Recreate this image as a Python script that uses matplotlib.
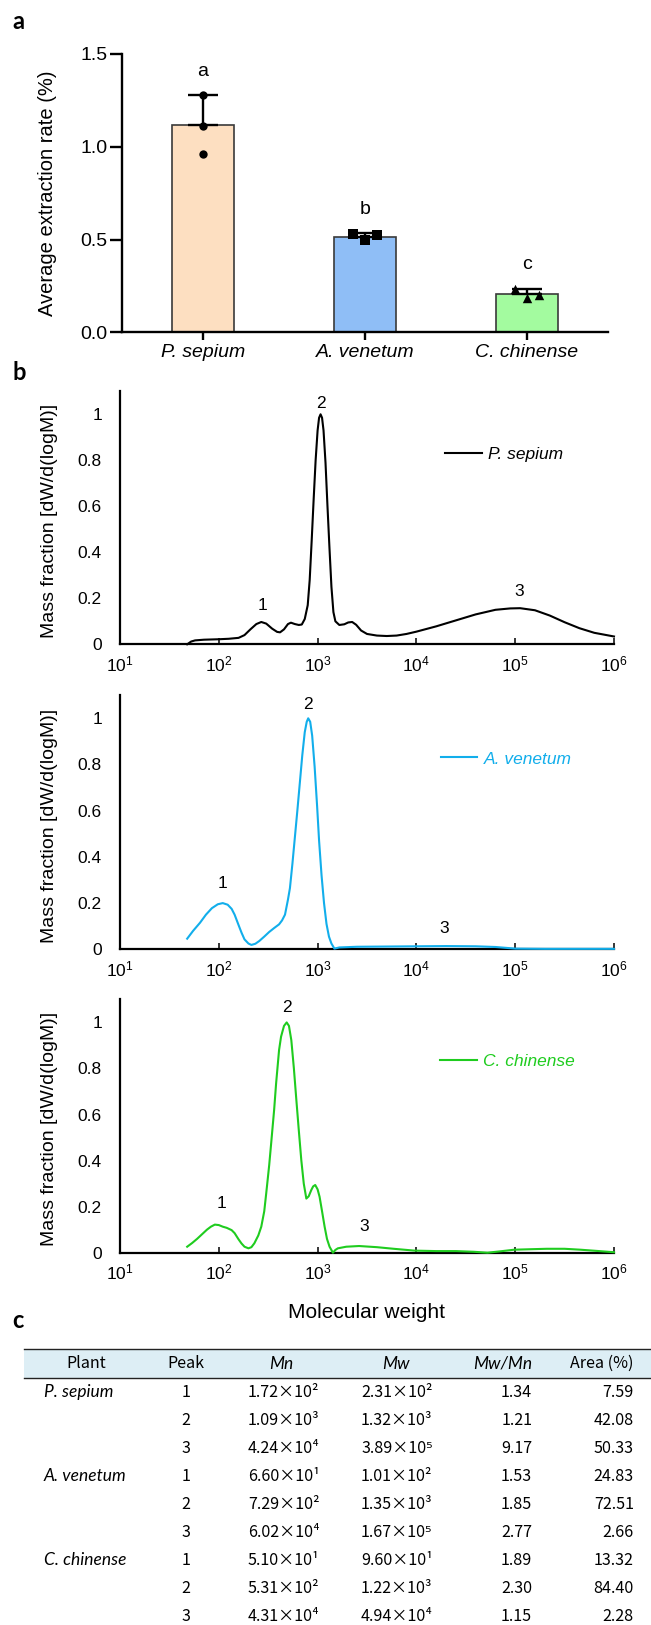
import numpy as np
import matplotlib
matplotlib.use('Agg')
import matplotlib.pyplot as plt
from matplotlib.ticker import FixedLocator, FuncFormatter, NullLocator
from matplotlib.patches import Rectangle

plt.rcParams['font.family'] = ['Liberation Sans', 'DejaVu Sans']
plt.rcParams['mathtext.fontset'] = 'custom'
plt.rcParams['mathtext.rm'] = 'Liberation Sans'
plt.rcParams['mathtext.it'] = 'Liberation Sans:italic'
plt.rcParams['mathtext.bf'] = 'Liberation Sans:bold'

# ---------------- Panel a data ----------------
species = ['P. sepium', 'A. venetum', 'C. chinense']
bar_means = [1.116, 0.515, 0.206]
bar_err_up = [0.162, 0.019, 0.029]
reps_ps = [1.278, 1.110, 0.961]
reps_av = [0.530, 0.496, 0.525]
reps_cc = [0.235, 0.187, 0.199]
sig_letters = ['a', 'b', 'c']
bar_colors = ['#FDDFC1', '#8FBEF6', '#A3FB9F']

# ---------------- Panel b data (log10 M, dW/dlogM) ----------------
ps_logM = [1.68, 1.72, 1.76, 1.85, 2.00, 2.10, 2.20, 2.26, 2.32, 2.38,
           2.43, 2.48, 2.54, 2.59, 2.62, 2.66, 2.70, 2.73, 2.77, 2.81,
           2.84, 2.87, 2.90, 2.92, 2.94, 2.96, 2.98, 3.00, 3.015, 3.03,
           3.045, 3.06, 3.08, 3.10, 3.12, 3.14, 3.16, 3.18, 3.22, 3.27,
           3.31, 3.35, 3.39, 3.44, 3.50, 3.60, 3.70, 3.80, 3.90, 4.00,
           4.20, 4.40, 4.60, 4.80, 4.95, 5.05, 5.20, 5.35, 5.50, 5.65,
           5.80, 6.00]
ps_y = [0.000, 0.012, 0.017, 0.020, 0.022, 0.024, 0.028, 0.040, 0.065, 0.088,
        0.097, 0.090, 0.068, 0.054, 0.052, 0.065, 0.088, 0.094, 0.088, 0.084,
        0.086, 0.110, 0.170, 0.280, 0.450, 0.630, 0.800, 0.930, 0.985, 1.000,
        0.985, 0.930, 0.790, 0.600, 0.420, 0.250, 0.140, 0.100, 0.084, 0.087,
        0.095, 0.097, 0.085, 0.060, 0.045, 0.038, 0.036, 0.038, 0.045, 0.055,
        0.078, 0.104, 0.130, 0.150, 0.156, 0.157, 0.148, 0.125, 0.096, 0.070,
        0.050, 0.034]

av_logM = [1.68, 1.74, 1.81, 1.87, 1.93, 1.99, 2.04, 2.09, 2.13, 2.16,
           2.20, 2.23, 2.26, 2.30, 2.33, 2.37, 2.41, 2.46, 2.51, 2.56,
           2.61, 2.64, 2.67, 2.70, 2.72, 2.745, 2.77, 2.795, 2.82, 2.845,
           2.87, 2.89, 2.905, 2.925, 2.945, 2.97, 2.995, 3.015, 3.04, 3.065,
           3.09, 3.115, 3.14, 3.17, 3.22, 3.40, 3.70, 4.00, 4.30, 4.60,
           4.80, 5.00, 5.30, 5.60, 6.00]
av_y = [0.046, 0.080, 0.115, 0.150, 0.178, 0.195, 0.200, 0.193, 0.175, 0.150,
        0.105, 0.072, 0.043, 0.025, 0.019, 0.024, 0.036, 0.055, 0.075, 0.092,
        0.108, 0.125, 0.150, 0.215, 0.265, 0.370, 0.485, 0.600, 0.720, 0.840,
        0.940, 0.985, 1.000, 0.985, 0.925, 0.790, 0.620, 0.470, 0.320, 0.200,
        0.110, 0.055, 0.025, 0.003, 0.008, 0.011, 0.012, 0.013, 0.014, 0.013,
        0.010, 0.003, 0.002, 0.002, 0.002]

cc_logM = [1.68, 1.73, 1.78, 1.83, 1.88, 1.92, 1.96, 2.00, 2.04, 2.08,
           2.13, 2.16, 2.20, 2.23, 2.26, 2.30, 2.33, 2.36, 2.40, 2.43,
           2.46, 2.48, 2.51, 2.53, 2.56, 2.58, 2.61, 2.63, 2.66, 2.687,
           2.71, 2.734, 2.76, 2.785, 2.81, 2.835, 2.86, 2.886, 2.91, 2.936,
           2.955, 2.976, 3.00, 3.02, 3.045, 3.071, 3.095, 3.121, 3.155, 3.18,
           3.205, 3.29, 3.42, 3.60, 3.77, 3.98, 4.20, 4.40, 4.58, 4.72,
           4.85, 4.99, 5.15, 5.32, 5.50, 5.66, 5.85, 6.00]
cc_y = [0.026, 0.042, 0.060, 0.080, 0.100, 0.113, 0.122, 0.120, 0.113, 0.108,
        0.098, 0.085, 0.058, 0.040, 0.026, 0.019, 0.024, 0.041, 0.075, 0.113,
        0.180, 0.258, 0.380, 0.475, 0.620, 0.735, 0.880, 0.938, 0.985, 1.000,
        0.985, 0.923, 0.800, 0.663, 0.530, 0.402, 0.300, 0.235, 0.245, 0.272,
        0.288, 0.294, 0.275, 0.243, 0.180, 0.113, 0.060, 0.026, 0.000, 0.012,
        0.019, 0.026, 0.029, 0.024, 0.017, 0.009, 0.007, 0.007, 0.004, 0.000,
        0.006, 0.013, 0.015, 0.017, 0.017, 0.013, 0.007, 0.002]

curve_colors = ['#000000', '#12AEEB', '#1FCC1F']
peak_labels = ['1', '2', '3']
# approximate (log10 M, y) anchor of the peak numbers in each panel
peak_label_pos = [[(2.44, 0.167), (3.03, 1.048), (5.04, 0.229)],
                  [(2.04, 0.286), (2.906, 1.058), (4.28, 0.091)],
                  [(2.03, 0.214), (2.69, 1.066), (3.47, 0.113)]]
mw_ticks = [1e1, 1e2, 1e3, 1e4, 1e5, 1e6]
frac_ticks = [0, 0.2, 0.4, 0.6, 0.8, 1.0]

# ---------------- Panel c data ----------------
tbl_header = ['Plant', 'Peak', 'Mn', 'Mw', 'Mw/Mn', 'Area (%)']
tbl_peaks = [1, 2, 3]
mn_mant = [[1.72, 1.09, 4.24], [6.60, 7.29, 6.02], [5.10, 5.31, 4.31]]
mn_exp = [[2, 3, 4], [1, 2, 4], [1, 2, 4]]
mw_mant = [[2.31, 1.32, 3.89], [1.01, 1.35, 1.67], [9.60, 1.22, 4.94]]
mw_exp = [[2, 3, 5], [2, 3, 5], [1, 3, 4]]
pdi = [[1.34, 1.21, 9.17], [1.53, 1.85, 2.77], [1.89, 2.30, 1.15]]
area = [[7.59, 42.08, 50.33], [24.83, 72.51, 2.66], [13.32, 84.40, 2.28]]

# ---------------- Figure ----------------
W, H = 651, 1625
fig = plt.figure(figsize=(W / 100, H / 100), dpi=100)


def rect(l, r, top, bottom):
    return [l / W, 1 - bottom / H, (r - l) / W, (bottom - top) / H]


# ---- Panel a ----
axa = fig.add_axes(rect(122, 608, 54, 332.3))
xa = np.arange(len(species))
axa.bar(xa, bar_means, width=0.386, color=bar_colors, edgecolor='#3a3a3a',
        linewidth=1.2, zorder=2)
axa.errorbar(xa, bar_means, yerr=[np.zeros(len(xa)), bar_err_up], fmt='none',
             ecolor='black', elinewidth=1.7, capsize=10.5, capthick=1.7, zorder=3)
jit = [[0, 0, 0], [-0.077, 0, 0.077], [-0.077, 0, 0.077]]
marks = [('o', 36), ('s', 44), ('^', 46)]
for i, reps in enumerate([reps_ps, reps_av, reps_cc]):
    axa.scatter(xa[i] + np.array(jit[i]), reps, marker=marks[i][0], s=marks[i][1],
                color='black', zorder=4, linewidths=0)
    axa.text(xa[i], bar_means[i] + bar_err_up[i] + 0.128, sig_letters[i],
             ha='center', va='center', fontsize=14)
axa.set_xlim(-0.5, 2.5)
axa.set_ylim(0, 1.5)
axa.set_yticks([0, 0.5, 1.0, 1.5])
axa.yaxis.set_major_formatter(FuncFormatter(lambda v, p: '%.1f' % v))
axa.set_xticks(xa)
axa.set_xticklabels(species, fontstyle='italic', fontsize=14)
for s in ['top', 'right']:
    axa.spines[s].set_visible(False)
for s in ['left', 'bottom']:
    axa.spines[s].set_linewidth(1.7)
axa.tick_params(axis='y', direction='out', length=8.4, width=1.7, labelsize=14, pad=2)
axa.tick_params(axis='x', direction='out', length=5.5, width=1.7, pad=3)
fig.text(48 / W, 1 - 193 / H, 'Average extraction rate (%)', rotation=90,
         ha='center', va='center', fontsize=14.5)

# ---- Panel b ----
b_rects = [rect(120, 614, 391.3, 644.3), rect(120, 614, 695.2, 949.3),
           rect(120, 614, 999.4, 1252.7)]
curves = [(ps_logM, ps_y), (av_logM, av_y), (cc_logM, cc_y)]
leg_anchor = [(0.658, 0.752), (0.649, 0.749), (0.648, 0.754)]
for k in range(3):
    ax = fig.add_axes(b_rects[k])
    lm, yy = curves[k]
    ax.plot(10 ** np.array(lm), yy, color=curve_colors[k], lw=1.5,
            label=species[k], zorder=3, clip_on=False)
    ax.set_xscale('log')
    ax.set_xlim(10, 1e6)
    ax.set_ylim(0, 1.1)
    ax.xaxis.set_major_locator(FixedLocator(mw_ticks))
    ax.xaxis.set_minor_locator(NullLocator())
    ax.yaxis.set_major_locator(FixedLocator(frac_ticks))
    ax.yaxis.set_major_formatter(FuncFormatter(lambda v, p: '%g' % v))
    for s in ['top', 'right']:
        ax.spines[s].set_visible(False)
    for s in ['left', 'bottom']:
        ax.spines[s].set_linewidth(1.6)
    ax.tick_params(axis='y', length=0, pad=13, labelsize=12.5)
    ax.tick_params(axis='x', direction='in', length=4, width=1.1, pad=7, labelsize=12.5)
    for lab, (pl, py) in zip(peak_labels, peak_label_pos[k]):
        ax.text(10 ** pl, py, lab, ha='center', va='center', fontsize=12.5)
    ax.legend(loc='center left', bbox_to_anchor=leg_anchor[k], borderaxespad=0,
              borderpad=0, handlelength=2.1, handletextpad=0.38, frameon=False,
              prop={'style': 'italic', 'size': 12.5}, labelcolor='linecolor')
    cy = (b_rects[k][1] + b_rects[k][3] / 2)
    fig.text(49.5 / W, cy - 0.002, 'Mass fraction [dW/d(logM)]', rotation=90,
             ha='center', va='center', fontsize=14)
fig.text(367 / W, 1 - 1312.7 / H, 'Molecular weight', ha='center', va='center',
         fontsize=15)

# ---- Panel labels ----
for lab, yb in zip(['a', 'b', 'c'], [29.3, 380, 1328.3]):
    fig.text(12.5 / W, 1 - yb / H, lab, ha='left', va='baseline', fontsize=17,
             fontweight='bold', family=['Lato', 'DejaVu Sans'])

# ---- Panel c table ----
axt = fig.add_axes([0, 0, 1, 1])
axt.set_xlim(0, W)
axt.set_ylim(H, 0)
axt.axis('off')
axt.add_patch(Rectangle((24, 1349.3), W - 24, 29, facecolor='#DDEEF5',
                        edgecolor='none', zorder=1))
axt.plot([24, W], [1349.3, 1349.3], color='#222222', lw=1.0, zorder=2)
axt.plot([24, W], [1378.3, 1378.3], color='#222222', lw=1.0, zorder=2)

reg = dict(family=['Noto Sans CJK SC', 'DejaVu Sans'], fontsize=11.6)
ita = dict(family=['Lato', 'DejaVu Sans'], fontstyle='italic', fontsize=12.5)
hy = 1363.8
axt.text(86.3, hy, tbl_header[0], ha='center', va='center', **reg)
axt.text(185.6, hy, tbl_header[1], ha='center', va='center', **reg)
axt.text(281, hy, tbl_header[2], ha='center', va='center', **ita)
axt.text(396.4, hy, tbl_header[3], ha='center', va='center', **ita)
axt.text(532.2, hy, tbl_header[4], ha='right', va='center', **ita)
axt.text(633.9, hy, tbl_header[5], ha='right', va='center', **reg)

sup = {1: '\u00b9', 2: '\u00b2', 3: '\u00b3', 4: '\u2074', 5: '\u2075'}
row = 0
for i, plant in enumerate(species):
    for j, pk in enumerate(tbl_peaks):
        y = 1392.3 + 28 * row
        if j == 0:
            axt.text(43.6, y, plant, ha='left', va='center', **ita)
        axt.text(185.6, y, str(pk), ha='center', va='center', **reg)
        axt.text(247.8, y, '%.2f\u00d710%s' % (mn_mant[i][j], sup[mn_exp[i][j]]),
                 ha='left', va='center', **reg)
        axt.text(361.1, y, '%.2f\u00d710%s' % (mw_mant[i][j], sup[mw_exp[i][j]]),
                 ha='left', va='center', **reg)
        axt.text(532.2, y, '%.2f' % pdi[i][j], ha='right', va='center', **reg)
        axt.text(633.9, y, '%.2f' % area[i][j], ha='right', va='center', **reg)
        row += 1

fig.savefig('out.png', dpi=100)
